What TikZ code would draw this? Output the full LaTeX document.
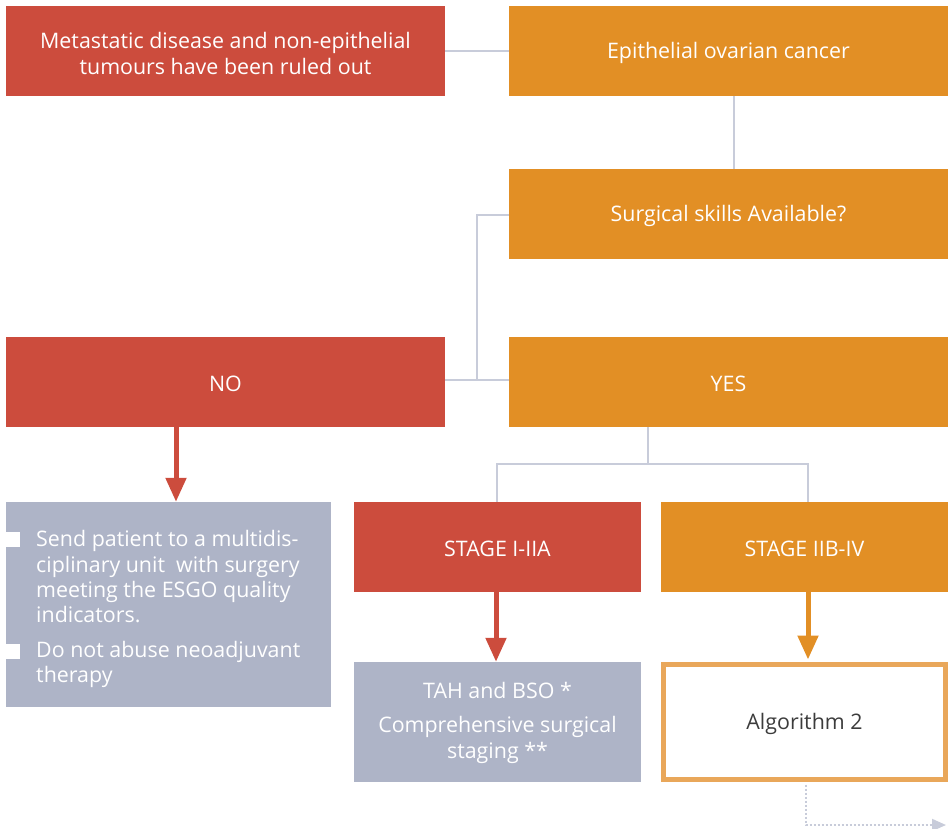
\documentclass[tikz,border=0pt]{standalone}
\usepackage{fontspec}
\setmainfont{Open Sans}
\usetikzlibrary{arrows.meta}
\definecolor{cred}{HTML}{CC4C3D}
\definecolor{corange}{HTML}{E28F25}
\definecolor{cgray}{HTML}{AEB4C7}
\definecolor{cline}{HTML}{C8CCDA}
\definecolor{calgo}{HTML}{E9A75A}
\definecolor{ctext}{HTML}{3C3C3C}
\tikzset{
  box/.style={minimum width=439pt,minimum height=90pt,inner sep=0pt},
  redbox/.style={box,fill=cred},
  orbox/.style={box,fill=corange},
  smallbox/.style={box,minimum width=287pt},
  txt/.style={inner sep=0pt,align=center,text=white,font=\fontsize{21.4}{26}\selectfont},
  conn/.style={draw=cline,line width=2.5pt},
  bigarrow/.style={line width=5pt,-{Triangle[length=24pt,width=20pt]}},
  bullet/.style={fill=white,draw=none,minimum width=14pt,minimum height=15pt,inner sep=0pt}
}
\begin{document}
\begin{tikzpicture}[x=1pt,y=-1pt]
\useasboundingbox (0,0) rectangle (950,829);
\node[redbox] (meta) at (225.5,51) {};
\node[txt] (metat) at ([yshift=-2pt]meta.center) {Metastatic disease and non-epithelial\\tumours have been ruled out};
\node[orbox] (epi) at (728.5,51) {};
\node[txt] (epit) at ([yshift=-2pt]epi.center) {Epithelial ovarian cancer};
\node[orbox] (surg) at (728.5,214) {};
\node[txt] (surgt) at ([yshift=-2pt]surg.center) {Surgical skills Available?};
\node[redbox] (no) at (225.5,382) {};
\node[txt] (not) at ([yshift=-2pt]no.center) {NO};
\node[orbox] (yes) at (728.5,382) {};
\node[txt] (yest) at ([yshift=-2pt]yes.center) {YES};
\node[smallbox,fill=cred] (s1) at (497.5,547) {};
\node[txt] (s1t) at ([yshift=-2pt]s1.center) {STAGE I-IIA};
\node[smallbox,fill=corange] (s2) at (804.5,547) {};
\node[txt] (s2t) at ([yshift=-2pt]s2.center) {STAGE IIB-IV};
\node[fill=cgray,minimum width=325pt,minimum height=205pt,inner sep=0pt] (send) at (168.5,604.5) {};
\node[anchor=north west,inner sep=0pt,text=white,align=left,font=\fontsize{21.4}{25.3}\selectfont] (sendtxt) at (36,530.5) {Send patient to a multidis-\\ciplinary unit\ \ with surgery\\meeting the ESGO quality\\indicators.\\[9.5pt]Do not abuse neoadjuvant\\therapy};
\node[bullet] (b1) at (13,539) {};
\node[bullet] (b2) at (13,651) {};
\node[smallbox,fill=cgray,minimum height=120pt] (tah) at (497.5,722) {};
\node[txt] (taht) at ([yshift=-1pt]tah.center) {TAH and BSO *\\[8pt]Comprehensive surgical\\staging **};
\node[smallbox,fill=white,draw=calgo,line width=5pt,minimum width=282pt,minimum height=115pt] (algo) at (804.5,722) {};
\node[txt,text=ctext] (algot) at ([yshift=-2pt]algo.center) {Algorithm 2};
\coordinate (jl) at (477,215);
\coordinate (jb) at (477,380);
\coordinate (yd) at (648,464);
\coordinate (yl) at (497,464);
\coordinate (yr) at (808,464);
\coordinate (dc) at (806,825);
\coordinate (de) at (946,825);
\draw[conn] (meta.east) -- (epi.west);
\draw[conn] (epi.south -| 734,0) -- (surg.north -| 734,0);
\draw[conn] (surg.west |- jl) -- (jl) -- (jb);
\draw[conn] (no.east |- jb) -- (yes.west |- jb);
\draw[conn] (yd |- yes.south) -- (yd);
\draw[conn] (yl |- s1.north) -- (yl) -- (yr) -- (yr |- s2.north);
\draw[bigarrow,cred] (no.south -| 176,0) -- (send.north -| 176,0);
\draw[bigarrow,cred] (s1.south -| 496,0) -- (tah.north -| 496,0);
\draw[bigarrow,corange] (s2.south -| 808,0) -- ([yshift=2.5pt]algo.north -| 808,0);
\draw[draw=cline,line width=2pt,dotted,-{Triangle[length=14pt,width=12pt]}] ([yshift=-2.5pt]algo.south -| dc) -- (dc) -- (de);
\end{tikzpicture}
\end{document}
